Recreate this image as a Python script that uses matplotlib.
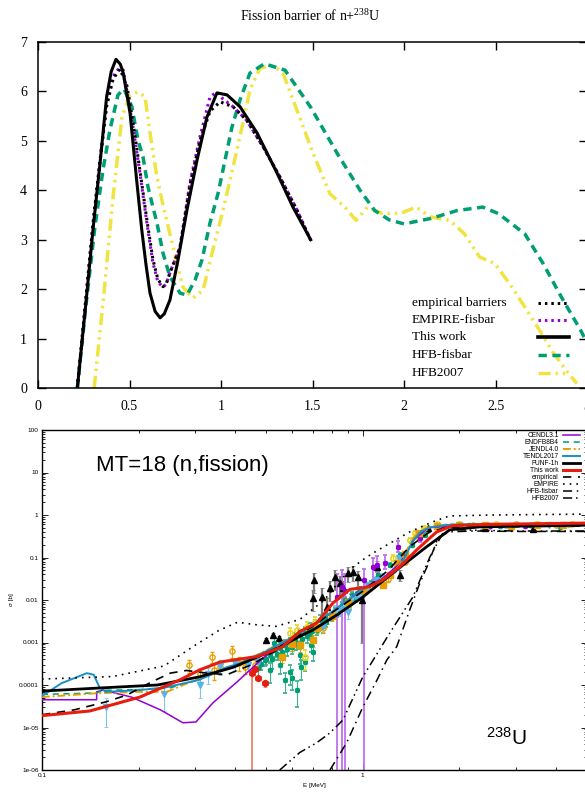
import matplotlib as mpl
mpl.use("Agg")
import matplotlib.pyplot as plt
import numpy as np
from matplotlib.lines import Line2D
from matplotlib.ticker import LogLocator, NullFormatter

plt.rcParams["mathtext.default"] = "regular"

SERIF = "Liberation Serif"
SANS = "Liberation Sans"

# ─── Top panel: fission barrier vs. deformation ─────────────────────────────
emp_bar_x = [0.215, 0.26, 0.30, 0.339, 0.375, 0.41, 0.448, 0.485, 0.52, 0.557, 0.595, 0.628,
             0.655, 0.683, 0.70, 0.721, 0.776, 0.83, 0.885, 0.94, 0.995, 1.066, 1.14, 1.23,
             1.322, 1.415, 1.49]
emp_bar_y = [0.0, 1.75, 3.3, 4.6, 5.7, 6.25, 6.45, 6.13, 5.35, 4.4, 3.4, 2.6,
             2.2, 2.05, 2.1, 2.33, 2.85, 4.1, 5.0, 5.6, 5.79, 5.69, 5.42, 4.88,
             4.27, 3.6, 2.99]

empire_bar_x = [0.215, 0.26, 0.30, 0.339, 0.375, 0.41, 0.443, 0.466, 0.519, 0.557, 0.595, 0.628,
                0.655, 0.683, 0.70, 0.721, 0.776, 0.83, 0.885, 0.94, 0.978, 1.01, 1.066, 1.14,
                1.23, 1.322, 1.415, 1.49]
empire_bar_y = [0.0, 1.75, 3.3, 4.6, 5.75, 6.3, 6.47, 6.43, 5.28, 4.35, 3.34, 2.53,
                2.15, 2.04, 2.1, 2.33, 2.85, 4.15, 5.08, 5.89, 5.99, 5.85, 5.69, 5.42,
                4.88, 4.27, 3.6, 2.99]

work_bar_x = [0.215, 0.26, 0.302, 0.339, 0.375, 0.40, 0.426, 0.45, 0.466, 0.503, 0.539, 0.567,
              0.59, 0.612, 0.64, 0.667, 0.69, 0.721, 0.765, 0.814, 0.869, 0.923, 0.978, 1.033,
              1.104, 1.197, 1.306, 1.393, 1.49]
work_bar_y = [0.0, 1.65, 3.26, 4.55, 5.89, 6.4, 6.65, 6.55, 6.37, 5.56, 4.21, 3.2,
              2.5, 1.92, 1.55, 1.42, 1.5, 1.78, 2.59, 3.6, 4.61, 5.48, 5.97, 5.93,
              5.69, 5.16, 4.35, 3.66, 3.0]

hfb_bar_x = [0.215, 0.26, 0.311, 0.355, 0.393, 0.437, 0.47, 0.513, 0.546, 0.574, 0.601, 0.628,
             0.65, 0.683, 0.721, 0.776, 0.814, 0.858, 0.896, 0.94, 0.984, 1.022, 1.06, 1.104,
             1.158, 1.237, 1.35, 1.49, 1.636, 1.76, 1.84, 1.92, 2.0, 2.147, 2.29, 2.43,
             2.515, 2.66, 2.76, 2.86, 2.965, 3.05]
hfb_bar_y = [0.0, 1.6, 3.26, 4.41, 5.22, 5.93, 6.05, 5.69, 5.02, 4.67, 4.07, 3.66,
             3.34, 2.73, 2.25, 1.92, 1.88, 2.18, 2.59, 3.34, 3.94, 4.61, 5.28, 5.83,
             6.37, 6.56, 6.43, 5.68, 4.74, 4.0, 3.59, 3.4, 3.32, 3.43, 3.59, 3.66,
             3.53, 3.12, 2.52, 1.84, 1.17, 0.55]

hfb07_bar_x = [0.307, 0.36, 0.41, 0.459, 0.503, 0.546, 0.585, 0.612, 0.65, 0.683, 0.738, 0.792,
               0.847, 0.902, 0.951, 1.011, 1.066, 1.115, 1.158, 1.213, 1.284, 1.339, 1.415, 1.503,
               1.595, 1.677, 1.738, 1.8, 1.88, 1.98, 2.065, 2.147, 2.25, 2.33, 2.413, 2.495,
               2.577, 2.66, 2.74, 2.82, 2.9, 2.945]
hfb07_bar_y = [0.0, 1.9, 3.86, 5.48, 5.93, 5.99, 5.89, 5.16, 4.27, 3.7, 2.85, 2.04,
               1.82, 1.98, 2.73, 3.6, 4.47, 5.28, 6.03, 6.47, 6.53, 6.37, 5.62, 4.75,
               3.93, 3.66, 3.39, 3.66, 3.53, 3.53, 3.66, 3.46, 3.39, 3.12, 2.65, 2.52,
               2.11, 1.64, 1.17, 0.69, 0.29, 0.09]

top_labels = ["empirical barriers", "EMPIRE-fisbar", "This work", "HFB-fisbar", "HFB2007"]

# ─── Bottom panel: (n,fission) cross sections [MeV, b] ──────────────────────
cendl_e = [0.1, 0.148, 0.1481, 0.155, 0.19, 0.234, 0.275, 0.302, 0.341, 0.405, 0.49, 0.63,
           0.8, 1.0, 1.15, 1.3, 1.45, 1.6, 2.0, 5.0]
cendl_xs = [4.5e-5, 4.5e-5, 6.9e-5, 7.6e-5, 5.2e-5, 2.6e-5, 1.29e-5, 1.35e-5, 3.8e-5, 1.17e-4,
            4.4e-4, 1.6e-3, 5.0e-3, 0.019, 0.032, 0.07, 0.27, 0.5, 0.58, 0.6]

endfb_e = [0.1, 0.148, 0.155, 0.2, 0.25, 0.3, 0.4, 0.5, 0.63, 0.8, 1.0, 1.12, 1.22, 1.30,
           1.36, 1.43, 1.52, 1.62, 1.8, 2.0, 5.0]
endfb_xs = [6.0e-5, 6.5e-5, 7.5e-5, 7.8e-5, 8.5e-5, 1.25e-4, 2.8e-4, 6.2e-4, 1.6e-3, 5.0e-3,
            0.018, 0.028, 0.04, 0.06, 0.12, 0.26, 0.42, 0.52, 0.58, 0.6, 0.6]

jendl_e = [0.1, 0.148, 0.2, 0.245, 0.3, 0.4, 0.5, 0.63, 0.8, 1.0, 1.12, 1.22, 1.30, 1.36,
           1.43, 1.52, 1.62, 1.8, 2.0, 5.0]
jendl_xs = [5.2e-5, 6.4e-5, 6.9e-5, 6.9e-5, 1.3e-4, 2.9e-4, 6.5e-4, 1.6e-3, 5.2e-3, 0.018,
            0.027, 0.04, 0.065, 0.13, 0.28, 0.43, 0.53, 0.58, 0.6, 0.6]

tendl_e = [0.1, 0.115, 0.138, 0.145, 0.151, 0.158, 0.202, 0.245, 0.309, 0.377, 0.417, 0.501,
           0.631, 0.794, 1.0, 1.12, 1.22, 1.30, 1.36, 1.43, 1.52, 1.62, 1.8, 2.0, 5.0]
tendl_xs = [5.5e-5, 1.1e-4, 1.9e-4, 1.74e-4, 8.9e-5, 6.9e-5, 7.6e-5, 8.9e-5, 1.32e-4, 2.63e-4,
            3.3e-4, 6.3e-4, 1.58e-3, 5.0e-3, 0.0178, 0.027, 0.04, 0.058, 0.11, 0.24, 0.41,
            0.51, 0.57, 0.6, 0.62]

funf_e = [0.1, 0.151, 0.229, 0.309, 0.394, 0.501, 0.551, 0.637, 0.698, 0.832, 1.0, 1.276,
          1.58, 1.866, 2.31, 3.16, 5.0]
funf_xs = [7.2e-5, 8.5e-5, 1.0e-4, 1.55e-4, 2.6e-4, 5.6e-4, 7.8e-4, 1.4e-3, 1.95e-3, 4.5e-3,
           0.0117, 0.051, 0.178, 0.447, 0.525, 0.55, 0.575]

work_e = [0.1, 0.141, 0.202, 0.269, 0.309, 0.359, 0.414, 0.468, 0.562, 0.637, 0.719, 0.807,
          0.912, 1.047, 1.153, 1.303, 1.472, 1.698, 1.905, 2.512, 5.0]
work_xs = [1.9e-5, 2.45e-5, 5.2e-5, 1.32e-4, 2.24e-4, 3.47e-4, 4.07e-4, 4.68e-4, 7.9e-4,
           1.82e-3, 2.88e-3, 8.5e-3, 0.0178, 0.0204, 0.0295, 0.060, 0.151, 0.398, 0.562,
           0.603, 0.646]

empirical_e = [0.1, 0.126, 0.158, 0.184, 0.219, 0.251, 0.282, 0.327, 0.377, 0.45, 0.537,
               0.63, 0.8, 1.0, 1.2, 1.4, 1.6, 1.8, 2.0, 5.0]
empirical_xs = [2.0e-5, 2.6e-5, 4.0e-5, 5.8e-5, 1.17e-4, 1.9e-4, 2.2e-4, 1.9e-4, 1.75e-4,
                3.0e-4, 6.5e-4, 1.4e-3, 5e-3, 0.016, 0.05, 0.18, 0.38, 0.5, 0.52, 0.55]

empire_e = [0.1, 0.166, 0.24, 0.302, 0.355, 0.407, 0.468, 0.537, 0.637, 0.759, 0.851, 0.933,
            1.028, 1.13, 1.4, 1.652, 1.862, 2.512, 5.0]
empire_xs = [1.38e-4, 1.58e-4, 2.8e-4, 8.9e-4, 1.9e-3, 3.0e-3, 2.6e-3, 2.4e-3, 3.5e-3, 0.01,
             0.0295, 0.06, 0.102, 0.158, 0.40, 0.69, 0.95, 1.0, 1.05]

hfbfis_e = [0.79, 0.891, 1.0, 1.107, 1.189, 1.276, 1.40, 1.506, 1.585, 1.72, 1.86, 2.2, 3.0, 5.0]
hfbfis_xs = [1e-6, 4.4e-6, 3.0e-5, 1.3e-4, 3.9e-4, 8e-4, 5.8e-3, 0.025, 0.06, 0.3, 0.4,
             0.42, 0.41, 0.41]

hfb07_e = [0.551, 0.637, 0.719, 0.789, 0.867, 1.0, 1.213, 1.432, 1.618, 1.778, 1.905, 2.2,
           3.0, 5.0]
hfb07_xs = [1.0e-6, 2.6e-6, 4.4e-6, 7.4e-6, 1.5e-5, 1.55e-4, 1.66e-3, 0.0117, 0.102, 0.38,
            0.45, 0.44, 0.42, 0.42]

# experimental points (energy, cross section, relative uncertainty)
exp_green_e = [0.471, 0.496, 0.513, 0.532, 0.551, 0.571, 0.593, 0.614, 0.637, 0.659, 0.684,
               0.708, 0.734, 0.513, 0.551, 0.593, 0.625, 0.571, 0.637, 0.69, 0.762, 0.819,
               0.879, 0.925, 0.979, 1.037, 1.114, 1.214, 1.303, 1.422, 1.56, 1.738, 2.15,
               2.67, 3.31, 4.11,
               0.48, 0.50, 0.52, 0.54, 0.56, 0.58, 0.60, 0.62, 0.645, 0.67, 0.695, 0.72,
               0.745, 0.77, 0.80, 0.83, 0.86, 0.89, 0.94, 0.96, 1.0, 1.06, 0.60, 0.64,
               0.66, 0.70, 0.53, 0.61, 0.68, 0.75]
exp_green_xs = [2.5e-4, 3.9e-4, 5.1e-4, 6.6e-4, 7.4e-4, 8.7e-4, 1.0e-3, 1.15e-3, 1.5e-3,
                1.8e-3, 2.2e-3, 2.6e-3, 3.4e-3, 2.2e-4, 3.0e-4, 2.0e-4, 7.6e-5, 1.3e-4,
                5.1e-4, 8.7e-4, 3.8e-3, 5.8e-3, 0.01, 0.013, 0.017, 0.022, 0.039, 0.066,
                0.115, 0.195, 0.34, 0.49, 0.575, 0.55, 0.575, 0.52,
                3.2e-4, 4.2e-4, 4.0e-4, 5.5e-4, 6.0e-4, 7.0e-4, 7.8e-4, 9.5e-4, 1.2e-3,
                1.4e-3, 1.9e-3, 2.0e-3, 2.8e-3, 3.1e-3, 4.0e-3, 5.0e-3, 7.5e-3, 8.5e-3,
                0.011, 0.015, 0.016, 0.025, 1.5e-4, 2.6e-4, 3.5e-4, 6.0e-4, 1.0e-3, 1.3e-3,
                1.6e-3, 2.4e-3]
exp_green_err = [0.4, 0.3, 0.3, 0.3, 0.4, 0.3, 0.3, 0.3, 0.3, 0.3, 0.3, 0.3, 0.3, 0.5, 0.4,
                 0.5, 0.6, 0.5, 0.4, 0.3, 0.2, 0.2, 0.2, 0.2, 0.2, 0.15, 0.15, 0.1, 0.1, 0.1,
                 0.1, 0.05, 0.05, 0.05, 0.05, 0.05,
                 0.3, 0.3, 0.4, 0.3, 0.3, 0.3, 0.3, 0.3, 0.3, 0.3, 0.25, 0.25, 0.25, 0.25,
                 0.2, 0.2, 0.2, 0.2, 0.2, 0.2, 0.15, 0.15, 0.5, 0.5, 0.4, 0.4, 0.3, 0.3,
                 0.3, 0.3]

exp_orange_e = [0.288, 0.31, 0.34, 0.344, 0.36, 0.39, 0.41, 0.43, 0.46, 0.6, 0.75, 0.9,
                1.05, 1.2, 1.35, 1.5, 2.2, 3.0, 4.0]
exp_orange_xs = [2.9e-4, 1.8e-4, 4.6e-4, 2.2e-4, 2.6e-4, 6.2e-4, 3.3e-4, 2.6e-4, 3.0e-4,
                 9e-4, 2.2e-3, 7e-3, 0.02, 0.032, 0.08, 0.3, 0.58, 0.6, 0.57]
exp_orange_err = [0.35, 0.35, 0.3, 0.4, 0.3, 0.3, 0.35, 0.3, 0.3, 0.3, 0.25, 0.2, 0.15,
                  0.15, 0.1, 0.1, 0.05, 0.05, 0.05]

exp_ltblue_e = [0.158, 0.24, 0.31, 0.33, 0.36, 0.40, 0.44, 0.47, 0.75, 0.85, 0.897, 0.95,
                1.037, 1.1, 1.3, 2.5, 3.8]
exp_ltblue_xs = [3.0e-5, 6.0e-5, 1.0e-4, 1.8e-4, 2.8e-4, 3.3e-4, 3.0e-4, 3.5e-4, 2.5e-3,
                 6e-3, 5.2e-3, 0.012, 0.022, 0.03, 0.1, 0.56, 0.57]
exp_ltblue_err = [0.65, 0.6, 0.5, 0.4, 0.4, 0.3, 0.3, 0.3, 0.3, 0.3, 0.3, 0.25, 0.2, 0.2,
                  0.1, 0.05, 0.05]

exp_snow_e = [0.82, 0.88, 0.92, 0.97, 1.03, 1.08, 1.16, 1.25, 1.9, 2.8, 4.4]
exp_snow_xs = [5.5e-3, 8.0e-3, 0.011, 0.014, 0.02, 0.024, 0.035, 0.05, 0.57, 0.56, 0.58]
exp_snow_err = [0.3, 0.3, 0.25, 0.25, 0.2, 0.2, 0.15, 0.15, 0.05, 0.05, 0.05]

exp_black_e = [0.703, 0.698, 0.745, 0.773, 0.789, 0.819, 0.847, 0.867, 0.897, 0.931, 0.964,
               0.993, 1.107, 1.303, 0.501, 0.525, 0.55, 1.6, 2.4, 3.4]
exp_black_xs = [0.0295, 0.0112, 0.0117, 0.0069, 0.019, 0.0347, 0.025, 0.019, 0.0437, 0.0457,
                0.0347, 0.01, 0.06, 0.039, 1.15e-3, 1.5e-3, 1.3e-3, 0.5, 0.5, 0.48]
exp_black_err = [0.5, 0.5, 0.6, 0.6, 0.5, 0.5, 0.5, 0.5, 0.4, 0.4, 0.4, 0.9, 0.4, 0.3, 0.1,
                 0.1, 0.1, 0.05, 0.05, 0.05]

exp_purple_e = [0.83, 0.861, 0.879, 1.007, 1.074, 1.11, 1.17, 1.285, 1.507, 1.8, 2.5, 3.2]
exp_purple_xs = [0.012, 0.02, 0.016, 0.03, 0.06, 0.066, 0.074, 0.178, 0.29, 0.55, 0.56, 0.55]
exp_purple_lo = [0.012, 0.02, 0.016, 0.03, 0.03, 0.02, 0.02, 0.04, 0.06, 0.03, 0.03, 0.03]
exp_purple_hi = [0.028, 0.03, 0.024, 0.025, 0.04, 0.04, 0.04, 0.06, 0.08, 0.03, 0.03, 0.03]

exp_red_e = [0.451, 0.471, 0.496, 0.46]
exp_red_xs = [1.9e-4, 1.45e-4, 1.12e-4, 2.4e-4]
exp_red_lo = [1.9e-4, 2e-5, 2e-5, 3e-5]
exp_red_hi = [5e-5, 2e-5, 2e-5, 3e-5]

exp_yellow_e = [0.593, 0.622, 0.668, 0.708, 0.66, 1.24, 1.3, 1.4, 1.45, 1.55, 1.7, 2.0, 2.6,
                3.5, 4.5]
exp_yellow_xs = [1.7e-3, 1.95e-3, 2.3e-3, 3.0e-3, 4.5e-4, 0.098, 0.07, 0.26, 0.38, 0.5,
                 0.62, 0.62, 0.6, 0.61, 0.6]
exp_yellow_err = [0.3, 0.3, 0.3, 0.3, 0.5, 0.15, 0.15, 0.1, 0.1, 0.05, 0.05, 0.05, 0.05, 0.05,
                  0.05]

exp_square_e = [0.56, 0.6, 0.637, 0.698, 0.72, 0.8, 0.9, 1.0, 1.153, 1.213, 1.276, 1.35,
                1.5, 1.7, 2.0, 2.4, 2.9, 3.5, 4.2]
exp_square_xs = [4.6e-4, 9e-4, 8.7e-4, 1.15e-3, 2.2e-3, 4.2e-3, 9e-3, 0.017, 0.0224, 0.039,
                 0.074, 0.12, 0.38, 0.55, 0.58, 0.57, 0.56, 0.58, 0.57]
exp_square_err = [0.3, 0.3, 0.3, 0.3, 0.25, 0.25, 0.2, 0.2, 0.15, 0.15, 0.1, 0.1, 0.05, 0.05,
                  0.05, 0.05, 0.05, 0.05, 0.05]

bottom_labels = ["CENDL3.1", "ENDFB8B4", "JENDL4.0", "TENDL2017", "FUNF-1h", "This work",
                 "empirical", "EMPIRE", "HFB-fisbar", "HFB2007"]

# ─── Colours ────────────────────────────────────────────────────────────────
C_PURPLE = "#9400d3"
C_GREEN = "#009e73"
C_YELLOW = "#f0e442"
C_ORANGE = "#e69f00"
C_BLUE = "#1a8fc6"
C_LTBLUE = "#56b4e9"
C_RED = "#e51e10"

DOT = (0, (0.8, 1.3))
DASH = (0, (2.4, 1.6))
DASHDOTDOT = (0, (3.5, 1.4, 0.7, 1.4, 0.7, 1.4))

fig = plt.figure(figsize=(5.85, 7.92), dpi=100)

# ══════════════════ top panel ══════════════════
ax1 = fig.add_axes([38 / 585, 1 - 388 / 792, 549 / 585, 346 / 792])

ax1.plot(emp_bar_x, emp_bar_y, color="black", lw=2.2, ls=DOT, zorder=4)
ax1.plot(empire_bar_x, empire_bar_y, color=C_PURPLE, lw=2.2, ls=DOT, zorder=3)
ax1.plot(work_bar_x, work_bar_y, color="black", lw=2.2, ls="-", zorder=5)
ax1.plot(hfb_bar_x, hfb_bar_y, color=C_GREEN, lw=2.5, ls=DASH, zorder=2)
ax1.plot(hfb07_bar_x, hfb07_bar_y, color=C_YELLOW, lw=2.5, ls=DASHDOTDOT, zorder=1)

ax1.set_xlim(0, 3)
ax1.set_ylim(0, 7)
ax1.set_xticks(np.arange(0, 3.01, 0.5))
ax1.set_xticklabels(["0", "0.5", "1", "1.5", "2", "2.5", "3"])
ax1.set_yticks(range(0, 8))
ax1.tick_params(direction="in", top=True, right=True, length=6, width=1,
                labelsize=10, labelfontfamily=SERIF)
ax1.tick_params(axis="x", pad=9)
ax1.tick_params(axis="y", pad=8)
for sp in ax1.spines.values():
    sp.set_linewidth(1.1)

fig.text(310 / 585, 1 - 16 / 792, "Fission barrier of n+$^{238}$U",
         fontsize=10, family=SERIF, ha="center", va="center")

# gnuplot-style key: left-justified text, sample on the right
top_styles = [
    dict(color="black", lw=2.2, ls=DOT),
    dict(color=C_PURPLE, lw=2.2, ls=DOT),
    dict(color="black", lw=2.6, ls="-"),
    dict(color=C_GREEN, lw=2.5, ls=DASH),
    dict(color=C_YELLOW, lw=2.5, ls=DASHDOTDOT),
]
key_rows = [0.2457, 0.1965, 0.1474, 0.0954, 0.0434]
for lab, sty, yk in zip(top_labels, top_styles, key_rows):
    ax1.text(0.681, yk, lab, transform=ax1.transAxes, fontsize=9.6, family=SERIF,
             ha="left", va="center", zorder=10)
    ax1.add_line(Line2D([0.911, 0.968], [yk, yk], transform=ax1.transAxes, zorder=10, **sty))

# ══════════════════ bottom panel ══════════════════
ax2 = fig.add_axes([42 / 585, 1 - 770 / 792, 545 / 585, 340 / 792])
ax2.set_xscale("log")
ax2.set_yscale("log")

ebar = dict(capsize=1.2, elinewidth=0.8, capthick=0.6, markersize=3.8, linestyle="none",
            zorder=2)


def rel(xs, err):
    return np.array(xs) * np.array(err)


ax2.errorbar(exp_black_e, exp_black_xs, yerr=rel(exp_black_xs, exp_black_err), fmt="^",
             color="black", ecolor="#7f7f7f", **{**ebar, "elinewidth": 1.6})
ax2.errorbar(exp_green_e, exp_green_xs, yerr=rel(exp_green_xs, exp_green_err),
             marker=(6, 2, 0), color=C_GREEN, ecolor="#3cb48f", mew=1.3, **ebar)
ax2.errorbar(exp_orange_e, exp_orange_xs, yerr=rel(exp_orange_xs, exp_orange_err), fmt="o",
             color=C_ORANGE, mfc="none", mew=1.0, **ebar)
ax2.errorbar(exp_ltblue_e, exp_ltblue_xs, yerr=rel(exp_ltblue_xs, exp_ltblue_err), fmt="v",
             color=C_LTBLUE, ecolor="#7cc5ef", **ebar)
ax2.errorbar(exp_snow_e, exp_snow_xs, yerr=rel(exp_snow_xs, exp_snow_err),
             marker=(8, 2, 0), color="#7cc5ef", mew=1.2, **ebar)
ax2.errorbar(exp_purple_e, exp_purple_xs, yerr=[exp_purple_lo, exp_purple_hi],
             marker=(6, 2, 0), color=C_PURPLE, ecolor="#c070f0", mew=1.3,
             **{**ebar, "elinewidth": 1.3})
ax2.errorbar(exp_red_e, exp_red_xs, yerr=[exp_red_lo, exp_red_hi], fmt="h",
             color=C_RED, ecolor="#f08070", **{**ebar, "markersize": 4.5, "elinewidth": 1.3})
ax2.errorbar(exp_yellow_e, exp_yellow_xs, yerr=rel(exp_yellow_xs, exp_yellow_err), fmt="o",
             color="#e8d820", mfc="none", mew=1.2, **ebar)
ax2.errorbar(exp_square_e, exp_square_xs, yerr=rel(exp_square_xs, exp_square_err), fmt="s",
             color=C_ORANGE, **ebar)

h_cendl, = ax2.plot(cendl_e, cendl_xs, color=C_PURPLE, lw=1.1, zorder=3)
h_endfb, = ax2.plot(endfb_e, endfb_xs, color=C_GREEN, lw=1.1, ls=(0, (4, 3)), zorder=3)
h_jendl, = ax2.plot(jendl_e, jendl_xs, color=C_ORANGE, lw=1.4, ls=(0, (4, 1.5, 1, 1.5)),
                    zorder=3)
h_tendl, = ax2.plot(tendl_e, tendl_xs, color=C_BLUE, lw=1.4, zorder=3)
h_funf, = ax2.plot(funf_e, funf_xs, color="black", lw=2.0, zorder=4)
h_work, = ax2.plot(work_e, work_xs, color=C_RED, lw=2.2, zorder=5)
h_emp, = ax2.plot(empirical_e, empirical_xs, color="black", lw=1.2, ls=(0, (5, 4)), zorder=3)
h_empire, = ax2.plot(empire_e, empire_xs, color="black", lw=1.2, ls=(0, (1, 3)), zorder=3)
h_hfbfis, = ax2.plot(hfbfis_e, hfbfis_xs, color="black", lw=1.1, ls=(0, (6, 3, 1, 3)),
                     zorder=3)
h_hfb07, = ax2.plot(hfb07_e, hfb07_xs, color="black", lw=1.1,
                    ls=(0, (6, 2.5, 1, 2.5, 1, 2.5)), zorder=3)

ax2.set_xlim(0.1, 5)
ax2.set_ylim(1e-6, 100)
ax2.set_xticks([0.1, 1])
ax2.set_xticklabels(["0.1", "1"])
ax2.xaxis.set_minor_locator(LogLocator(base=10, subs=np.arange(2, 10), numticks=20))
ax2.xaxis.set_minor_formatter(NullFormatter())
ax2.set_yticks([1e-6, 1e-5, 1e-4, 1e-3, 1e-2, 1e-1, 1, 10, 100])
ax2.set_yticklabels(["1e-06", "1e-05", "0.0001", "0.001", "0.01", "0.1", "1", "10", "100"])
ax2.yaxis.set_minor_locator(LogLocator(base=10, subs=np.arange(2, 10), numticks=20))
ax2.yaxis.set_minor_formatter(NullFormatter())
ax2.tick_params(which="both", direction="in", top=True, right=True, labelsize=4.6,
                labelfontfamily=SANS, width=0.6)
ax2.tick_params(which="major", length=4)
ax2.tick_params(which="minor", length=2.2)
ax2.tick_params(axis="x", pad=2)
ax2.tick_params(axis="y", pad=2.5)
for sp in ax2.spines.values():
    sp.set_linewidth(1.0)

ax2.set_xlabel("E [MeV]", fontsize=4.6, family=SANS, labelpad=4)
ax2.set_ylabel("σ [b]", fontsize=4.6, family=SANS, labelpad=3)

fig.text(182 / 585, 1 - 465 / 792, "MT=18 (n,fission)", fontsize=16, family=SANS,
         ha="center", va="center")
fig.text(506 / 585, 1 - 738 / 792, "$^{238}$U", fontsize=15, family=SANS,
         ha="center", va="center")

ax2.legend([h_cendl, h_endfb, h_jendl, h_tendl, h_funf, h_work, h_emp, h_empire, h_hfbfis,
            h_hfb07], bottom_labels,
           loc="upper right", bbox_to_anchor=(580 / 585, 1 - 432 / 792),
           bbox_transform=fig.transFigure, markerfirst=False, frameon=False,
           prop={"family": SANS, "size": 4.8}, handlelength=2.6, handletextpad=0.6,
           labelspacing=0.0, borderpad=0, borderaxespad=0)

fig.savefig("out.png", dpi=100)
